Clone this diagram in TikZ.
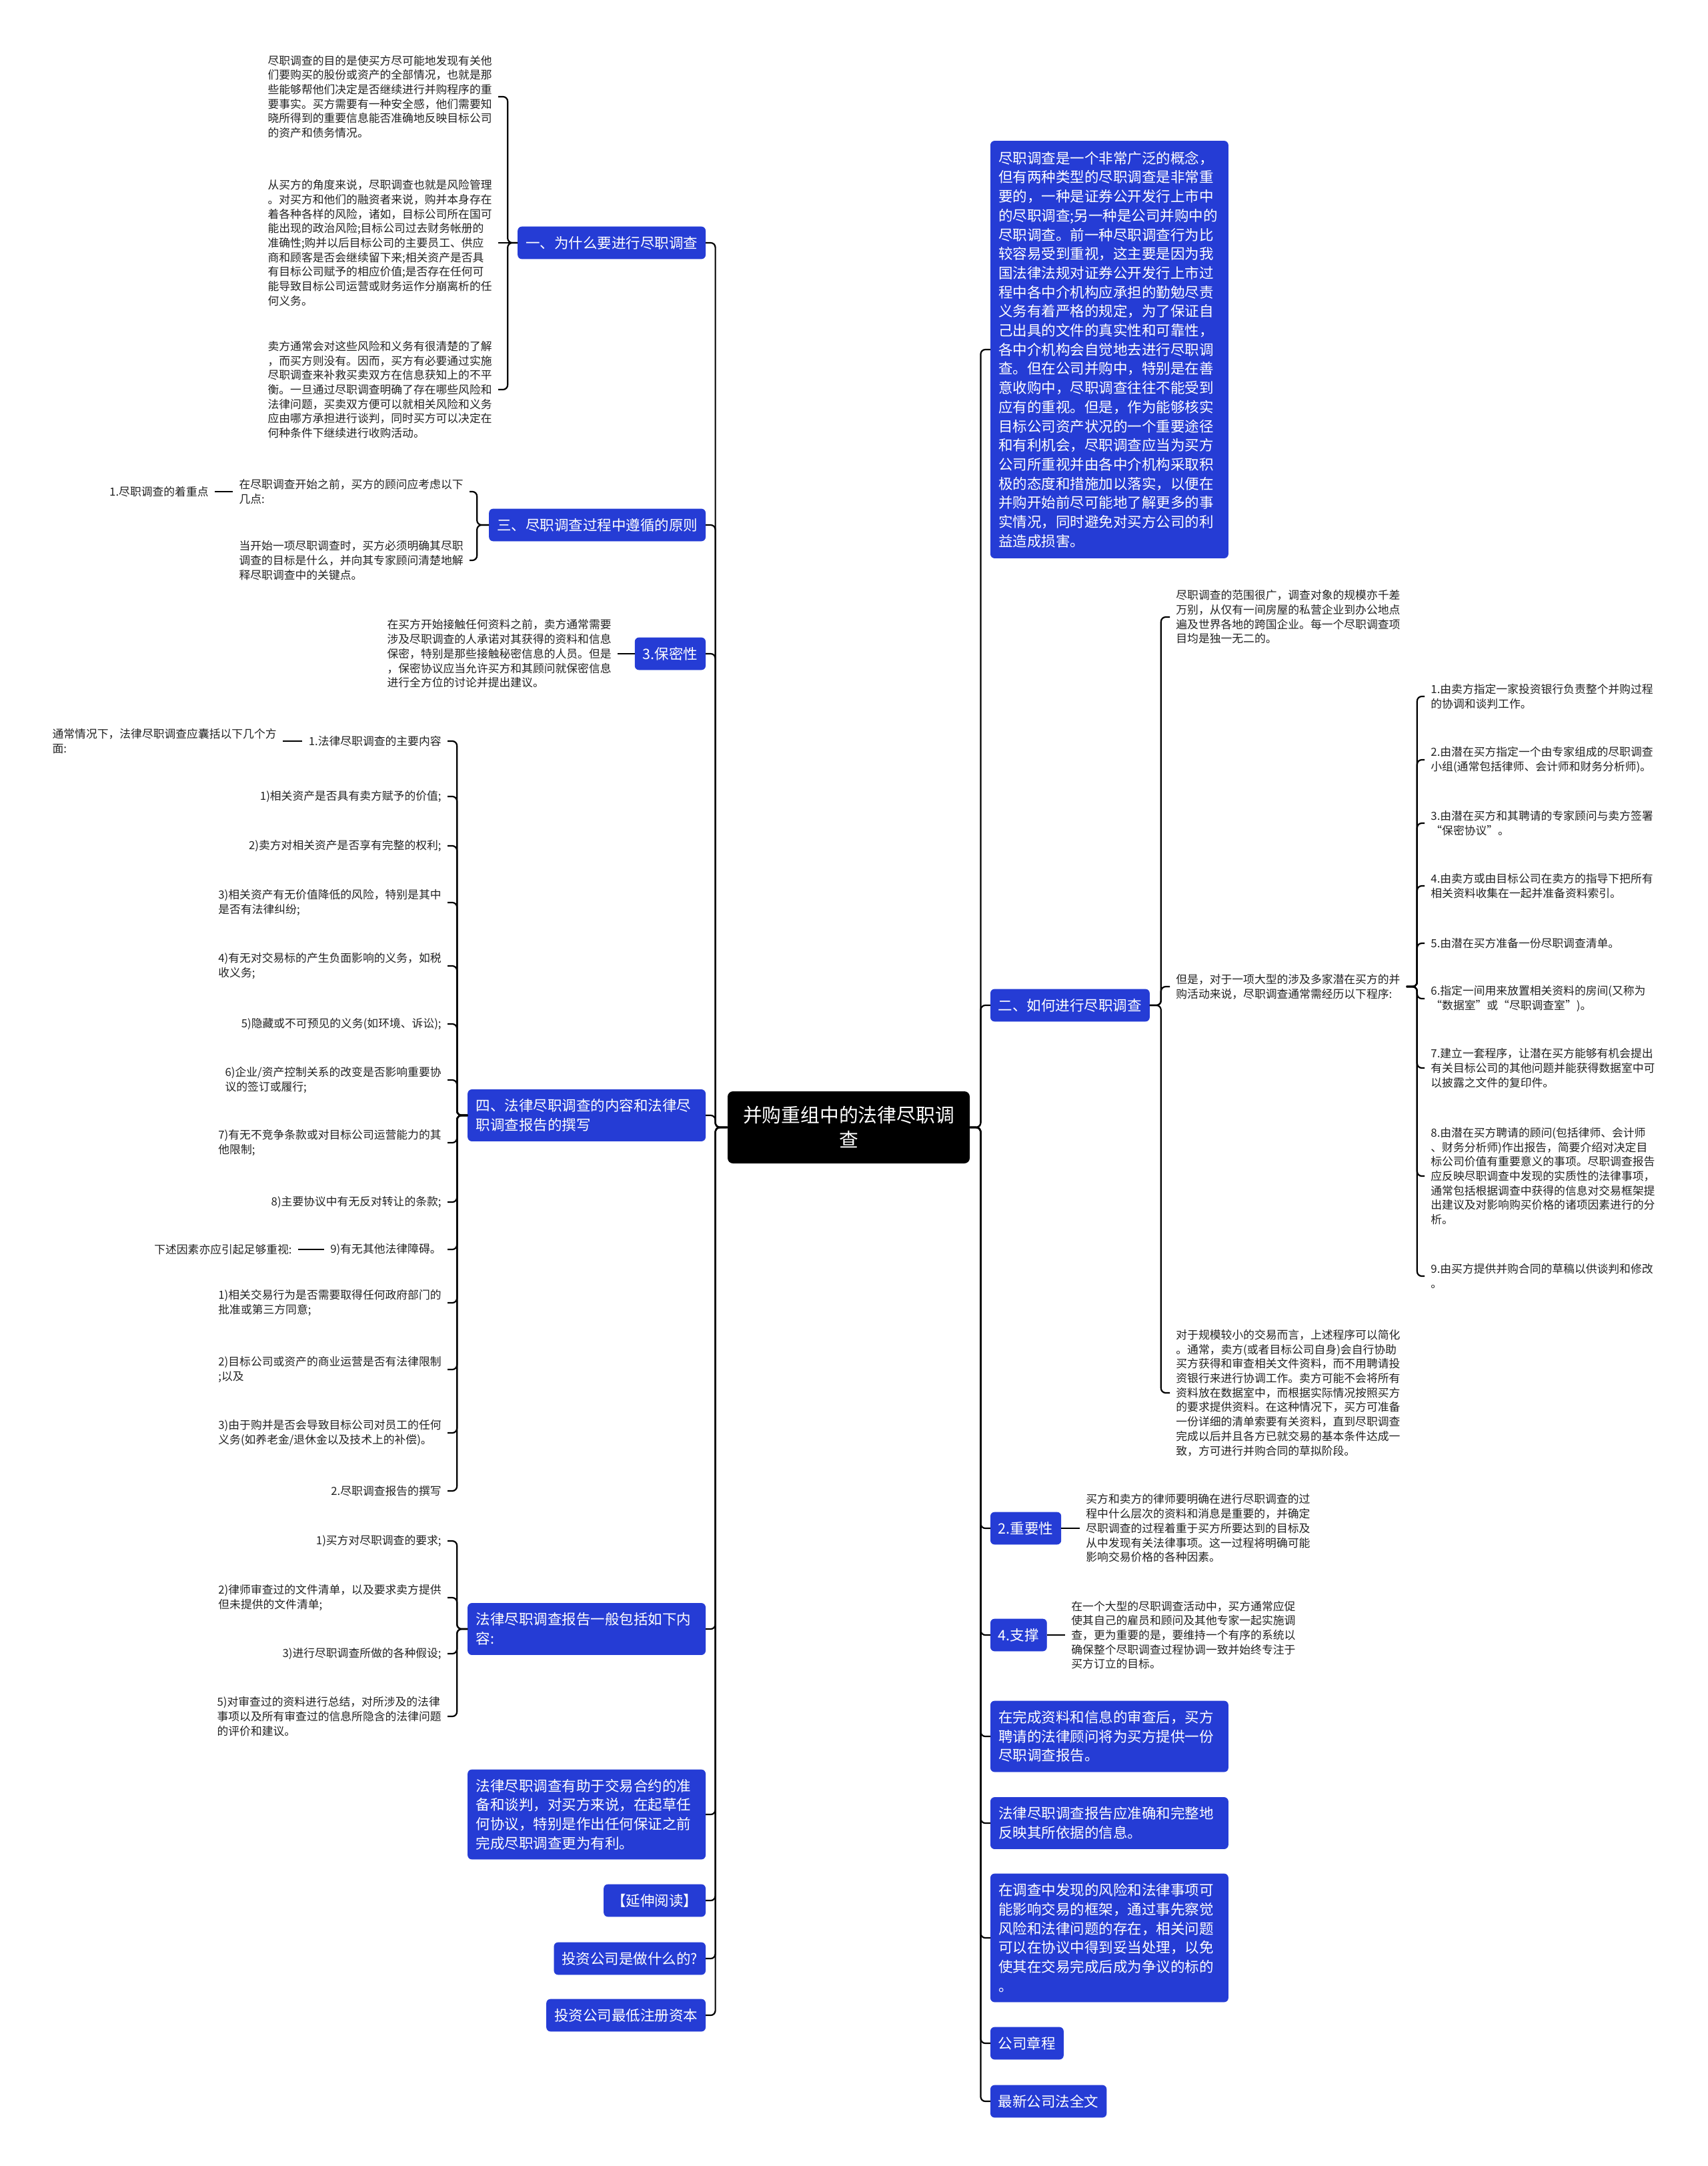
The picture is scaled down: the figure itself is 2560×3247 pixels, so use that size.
\documentclass[tikz,border=0pt]{standalone}
\usepackage{fontspec}
\setmainfont{Noto Sans CJK SC}
\definecolor{bblue}{RGB}{37,60,213}
\definecolor{ink}{RGB}{34,34,34}
\tikzset{
  bnode/.style={fill=bblue, draw=bblue, rounded corners=3pt, text=white, font=\fontsize{10.75}{14.35}\selectfont, inner xsep=5.75pt, inner ysep=0pt, minimum height=24pt, align=left},
  bwide/.style={bnode, text width=166pt, inner xsep=6pt},
  snode/.style={text=ink, font=\fontsize{8.4}{10.85}\selectfont, inner xsep=4.5pt, inner ysep=0pt, align=left},
  cnode/.style={fill=black, rounded corners=4pt, text=white, font=\fontsize{14.4}{18.5}\selectfont, align=center, minimum width=181.5pt, minimum height=54pt},
  conn/.style={draw=black, line width=1.1pt, rounded corners=3.5pt},
}
\begin{document}
\begin{tikzpicture}[x=0.5pt,y=-0.5pt]
\useasboundingbox (0,0) rectangle (2560,3247);
\fill[white] (0,0) rectangle (2560,3247);

% centre
\node[cnode] (C) at (1272.5,1690) {并购重组中的法律尽职调\\查};

% ---------------- left main branches
\node[bnode, anchor=east] (L1) at (1058,364) {一、为什么要进行尽职调查};
\node[bnode, anchor=east] (L3) at (1058,787) {三、尽职调查过程中遵循的原则};
\node[bnode, anchor=east] (LB) at (1058,980) {3.保密性};
\node[bwide, anchor=east, minimum height=38.5pt] (L4) at (1058,1672) {四、法律尽职调查的内容和法律尽\\职调查报告的撰写};
\node[bwide, anchor=east, minimum height=38.5pt] (LR) at (1058,2442) {法律尽职调查报告一般包括如下内\\容:};
\node[bwide, anchor=east, minimum height=67pt] (LH) at (1058,2720) {法律尽职调查有助于交易合约的准\\备和谈判，对买方来说，在起草任\\何协议，特别是作出任何保证之前\\完成尽职调查更为有利。};
\node[bnode, anchor=east] (LY) at (1058,2849) {【延伸阅读】};
\node[bnode, anchor=east] (LZ) at (1058,2936) {投资公司是做什么的?};
\node[bnode, anchor=east] (LM) at (1058,3021) {投资公司最低注册资本};

% ---------------- right main branches
\node[bwide, anchor=west, minimum height=312.5pt] (R0) at (1485,524) {尽职调查是一个非常广泛的概念，\\但有两种类型的尽职调查是非常重\\要的，一种是证券公开发行上市中\\的尽职调查;另一种是公司并购中的\\尽职调查。前一种尽职调查行为比\\较容易受到重视，这主要是因为我\\国法律法规对证券公开发行上市过\\程中各中介机构应承担的勤勉尽责\\义务有着严格的规定，为了保证自\\己出具的文件的真实性和可靠性，\\各中介机构会自觉地去进行尽职调\\查。但在公司并购中，特别是在善\\意收购中，尽职调查往往不能受到\\应有的重视。但是，作为能够核实\\目标公司资产状况的一个重要途径\\和有利机会，尽职调查应当为买方\\公司所重视并由各中介机构采取积\\极的态度和措施加以落实，以便在\\并购开始前尽可能地了解更多的事\\实情况，同时避免对买方公司的利\\益造成损害。};
\node[bnode, anchor=west] (R2) at (1485,1507) {二、如何进行尽职调查};
\node[bnode, anchor=west] (RZ) at (1485,2291) {2.重要性};
\node[bnode, anchor=west] (RS) at (1485,2451) {4.支撑};
\node[bwide, anchor=west, minimum height=53pt] (RW) at (1485,2603) {在完成资料和信息的审查后，买方\\聘请的法律顾问将为买方提供一份\\尽职调查报告。};
\node[bwide, anchor=west, minimum height=38.5pt] (RA) at (1485,2733) {法律尽职调查报告应准确和完整地\\反映其所依据的信息。};
\node[bwide, anchor=west, minimum height=96pt] (RF) at (1485,2905) {在调查中发现的风险和法律事项可\\能影响交易的框架，通过事先察觉\\风险和法律问题的存在，相关问题\\可以在协议中得到妥当处理，以免\\使其在交易完成后成为争议的标的\\。};
\node[bnode, anchor=west] (RG) at (1485,3063) {公司章程};
\node[bnode, anchor=west] (RQ) at (1485,3150) {最新公司法全文};

\foreach \n in {L1,L3,LB,L4,LR,LH,LY,LZ,LM} \draw[conn] (C.west) -- ++(-18,0) |- (\n.east);
\foreach \n in {R0,R2,RZ,RS,RW,RA,RF,RG,RQ} \draw[conn] (C.east) -- ++(16,0) |- (\n.west);

% ---------------- branch 一
\node[snode, anchor=east] (P1) at (747,145) {尽职调查的目的是使买方尽可能地发现有关他\\们要购买的股份或资产的全部情况，也就是那\\些能够帮他们决定是否继续进行并购程序的重\\要事实。买方需要有一种安全感，他们需要知\\晓所得到的重要信息能否准确地反映目标公司\\的资产和债务情况。};
\node[snode, anchor=east] (P2) at (747,364) {从买方的角度来说，尽职调查也就是风险管理\\。对买方和他们的融资者来说，购并本身存在\\着各种各样的风险，诸如，目标公司所在国可\\能出现的政治风险;目标公司过去财务帐册的\\准确性;购并以后目标公司的主要员工、供应\\商和顾客是否会继续留下来;相关资产是否具\\有目标公司赋予的相应价值;是否存在任何可\\能导致目标公司运营或财务运作分崩离析的任\\何义务。};
\node[snode, anchor=east] (P3) at (747,584) {卖方通常会对这些风险和义务有很清楚的了解\\，而买方则没有。因而，买方有必要通过实施\\尽职调查来补救买卖双方在信息获知上的不平\\衡。一旦通过尽职调查明确了存在哪些风险和\\法律问题，买卖双方便可以就相关风险和义务\\应由哪方承担进行谈判，同时买方可以决定在\\何种条件下继续进行收购活动。};
\draw[conn] (L1.west) -- ++(-15,0) |- (P1.east);
\draw[conn] (L1.west) -- (P2.east);
\draw[conn] (L1.west) -- ++(-15,0) |- (P3.east);

% ---------------- branch 三
\node[snode, anchor=east] (A) at (704,737) {在尽职调查开始之前，买方的顾问应考虑以下\\几点:};
\node[snode, anchor=east] (A1) at (322,737) {1.尽职调查的着重点};
\node[snode, anchor=east] (B) at (704,840) {当开始一项尽职调查时，买方必须明确其尽职\\调查的目标是什么，并向其专家顾问清楚地解\\释尽职调查中的关键点。};
\draw[conn] (L3.west) -- ++(-18,0) |- (A.east);
\draw[conn] (L3.west) -- ++(-18,0) |- (B.east);
\draw[conn] (A.west) -- (A1.east);

% ---------------- 3.保密性
\node[snode, anchor=east] (BT) at (926,980) {在买方开始接触任何资料之前，卖方通常需要\\涉及尽职调查的人承诺对其获得的资料和信息\\保密，特别是那些接触秘密信息的人员。但是\\，保密协议应当允许买方和其顾问就保密信息\\进行全方位的讨论并提出建议。};
\draw[conn] (LB.west) -- (BT.east);

% ---------------- branch 四
\node[snode, anchor=east] (Q0) at (671,1111) {1.法律尽职调查的主要内容};
\node[snode, anchor=east] (Q0a) at (424,1111) {通常情况下，法律尽职调查应囊括以下几个方\\面:};
\node[snode, anchor=east] (Q1) at (671,1194) {1)相关资产是否具有卖方赋予的价值;};
\node[snode, anchor=east] (Q2) at (671,1268) {2)卖方对相关资产是否享有完整的权利;};
\node[snode, anchor=east] (Q3) at (671,1353) {3)相关资产有无价值降低的风险，特别是其中\\是否有法律纠纷;};
\node[snode, anchor=east] (Q4) at (671,1448) {4)有无对交易标的产生负面影响的义务，如税\\收义务;};
\node[snode, anchor=east] (Q5) at (671,1535) {5)隐藏或不可预见的义务(如环境、诉讼);};
\node[snode, anchor=east] (Q6) at (671,1619) {6)企业/资产控制关系的改变是否影响重要协\\议的签订或履行;};
\node[snode, anchor=east] (Q7) at (671,1713) {7)有无不竞争条款或对目标公司运营能力的其\\他限制;};
\node[snode, anchor=east] (Q8) at (671,1802) {8)主要协议中有无反对转让的条款;};
\node[snode, anchor=east] (Q9) at (671,1873) {9)有无其他法律障碍。};
\node[snode, anchor=east] (Q9a) at (447,1873) {下述因素亦应引起足够重视:};
\node[snode, anchor=east] (Q10) at (671,1953) {1)相关交易行为是否需要取得任何政府部门的\\批准或第三方同意;};
\node[snode, anchor=east] (Q11) at (671,2053) {2)目标公司或资产的商业运营是否有法律限制\\;以及};
\node[snode, anchor=east] (Q12) at (671,2148) {3)由于购并是否会导致目标公司对员工的任何\\义务(如养老金/退休金以及技术上的补偿)。};
\node[snode, anchor=east] (Q13) at (671,2235) {2.尽职调查报告的撰写};
\foreach \n in {Q0,Q1,Q2,Q3,Q4,Q5,Q6,Q7,Q8,Q9,Q10,Q11,Q12,Q13} \draw[conn] (L4.west) -- ++(-16,0) |- (\n.east);
\draw[conn] (Q0.west) -- (Q0a.east);
\draw[conn] (Q9.west) -- (Q9a.east);

% ---------------- report contents
\node[snode, anchor=east] (S1) at (671,2310) {1)买方对尽职调查的要求;};
\node[snode, anchor=east] (S2) at (671,2395) {2)律师审查过的文件清单，以及要求卖方提供\\但未提供的文件清单;};
\node[snode, anchor=east] (S3) at (671,2479) {3)进行尽职调查所做的各种假设;};
\node[snode, anchor=east] (S4) at (671,2573) {5)对审查过的资料进行总结，对所涉及的法律\\事项以及所有审查过的信息所隐含的法律问题\\的评价和建议。};
\foreach \n in {S1,S2,S3,S4} \draw[conn] (LR.west) -- ++(-16,0) |- (\n.east);

% ---------------- branch 二
\node[snode, anchor=west] (T1) at (1754,925) {尽职调查的范围很广，调查对象的规模亦千差\\万别，从仅有一间房屋的私营企业到办公地点\\遍及世界各地的跨国企业。每一个尽职调查项\\目均是独一无二的。};
\node[snode, anchor=west] (T2) at (1754,1479) {但是，对于一项大型的涉及多家潜在买方的并\\购活动来说，尽职调查通常需经历以下程序:};
\node[snode, anchor=west] (T3) at (1754,2088) {对于规模较小的交易而言，上述程序可以简化\\。通常，卖方(或者目标公司自身)会自行协助\\买方获得和审查相关文件资料，而不用聘请投\\资银行来进行协调工作。卖方可能不会将所有\\资料放在数据室中，而根据实际情况按照买方\\的要求提供资料。在这种情况下，买方可准备\\一份详细的清单索要有关资料，直到尽职调查\\完成以后并且各方已就交易的基本条件达成一\\致，方可进行并购合同的草拟阶段。};
\foreach \n in {T1,T2,T3} \draw[conn] (R2.east) -- ++(17,0) |- (\n.west);

\node[snode, anchor=west] (U1) at (2136,1044) {1.由卖方指定一家投资银行负责整个并购过程\\的协调和谈判工作。};
\node[snode, anchor=west] (U2) at (2136,1139) {2.由潜在买方指定一个由专家组成的尽职调查\\小组(通常包括律师、会计师和财务分析师)。};
\node[snode, anchor=west] (U3) at (2136,1234) {3.由潜在买方和其聘请的专家顾问与卖方签署\\“保密协议”。};
\node[snode, anchor=west] (U4) at (2136,1328) {4.由卖方或由目标公司在卖方的指导下把所有\\相关资料收集在一起并准备资料索引。};
\node[snode, anchor=west] (U5) at (2136,1414) {5.由潜在买方准备一份尽职调查清单。};
\node[snode, anchor=west] (U6) at (2136,1497) {6.指定一间用来放置相关资料的房间(又称为\\“数据室”或“尽职调查室”)。};
\node[snode, anchor=west] (U7) at (2136,1601) {7.建立一套程序，让潜在买方能够有机会提出\\有关目标公司的其他问题并能获得数据室中可\\以披露之文件的复印件。};
\node[snode, anchor=west] (U8) at (2136,1763) {8.由潜在买方聘请的顾问(包括律师、会计师\\、财务分析师)作出报告，简要介绍对决定目\\标公司价值有重要意义的事项。尽职调查报告\\应反映尽职调查中发现的实质性的法律事项，\\通常包括根据调查中获得的信息对交易框架提\\出建议及对影响购买价格的诸项因素进行的分\\析。};
\node[snode, anchor=west] (U9) at (2136,1913) {9.由买方提供并购合同的草稿以供谈判和修改\\。};
\foreach \n in {U1,U2,U3,U4,U5,U6,U7,U8,U9} \draw[conn] (T2.east) -- ++(16,0) |- (\n.west);

% ---------------- 2.重要性 / 4.支撑
\node[snode, anchor=west] (ZT) at (1619,2291) {买方和卖方的律师要明确在进行尽职调查的过\\程中什么层次的资料和消息是重要的，并确定\\尽职调查的过程着重于买方所要达到的目标及\\从中发现有关法律事项。这一过程将明确可能\\影响交易价格的各种因素。};
\draw[conn] (RZ.east) -- (ZT.west);
\node[snode, anchor=west] (ST) at (1597,2451) {在一个大型的尽职调查活动中，买方通常应促\\使其自己的雇员和顾问及其他专家一起实施调\\查，更为重要的是，要维持一个有序的系统以\\确保整个尽职调查过程协调一致并始终专注于\\买方订立的目标。};
\draw[conn] (RS.east) -- (ST.west);

\end{tikzpicture}
\end{document}
